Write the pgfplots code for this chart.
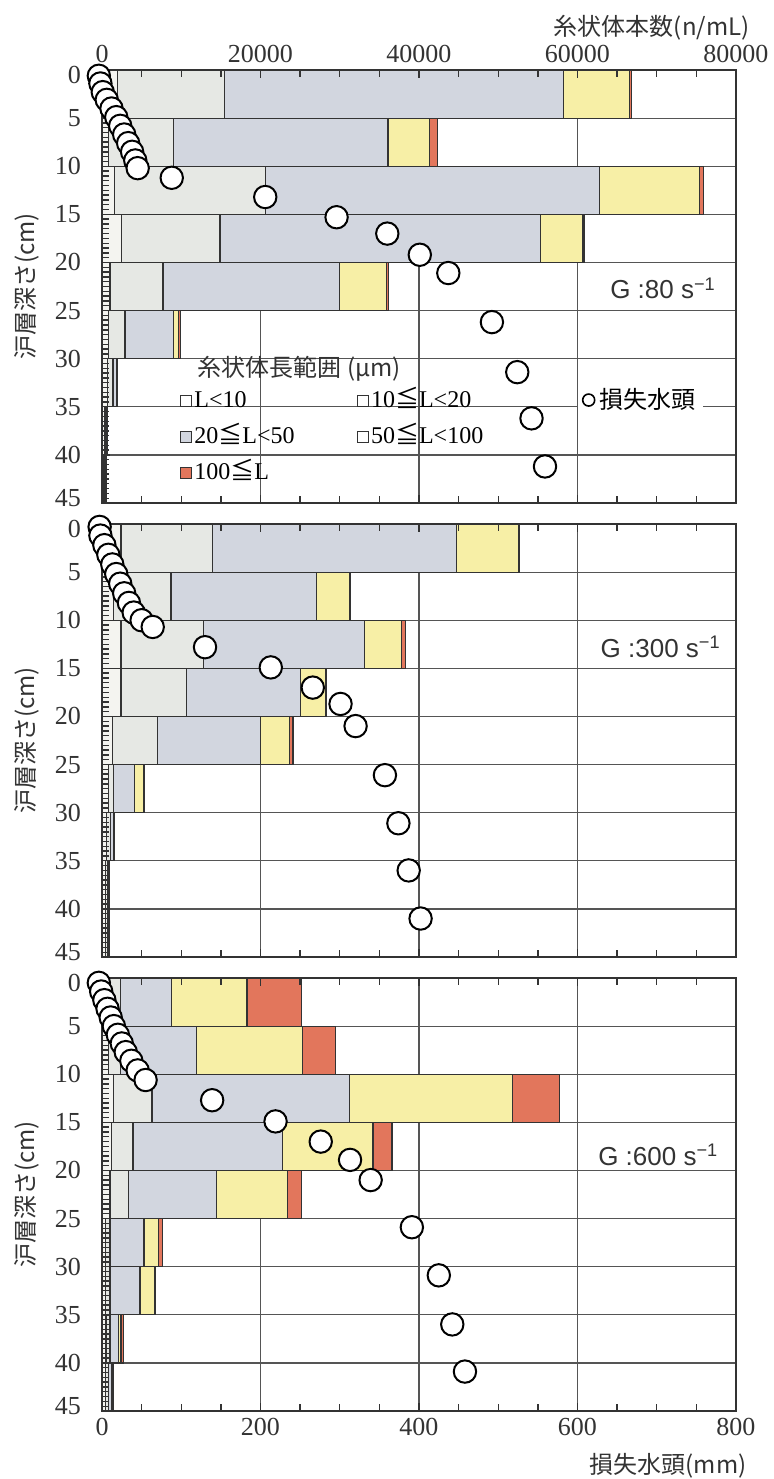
\documentclass[border=0pt]{standalone}
\usepackage{fontspec}
\setmainfont{Liberation Serif}
\newfontfamily\jp{Noto Sans CJK JP}
\newfontfamily\gs{Liberation Sans}
\usepackage{pgfplots}
\usepackage{pgfplotstable}
\pgfplotsset{compat=1.18}
\definecolor{cA}{HTML}{F4F4F0}
\definecolor{cB}{HTML}{E6E8E4}
\definecolor{cC}{HTML}{D2D6DF}
\definecolor{cD}{HTML}{F7EFA6}
\definecolor{cE}{HTML}{E2765C}
\definecolor{framec}{HTML}{333333}
\definecolor{gridc}{HTML}{555555}
\newcommand\leqj{{\jp ≦}}
\newcommand\up[1]{\raisebox{2.5pt}[\height][\depth]{#1}}
\newcommand\dn[1]{\raisebox{-2.5pt}[\height][\depth]{#1}}

% counts (n/mL) per length class; d = depth band centre (cm)
\pgfplotstableread{
d a b c e f
2.5 2000 13500 42700 8400 200
7.5 800 8200 27100 5200 1000
12.5 1600 19000 42200 12600 500
17.5 2500 12400 40400 5400 200
22.5 1000 6700 22300 5900 300
27.5 800 2100 6100 700 200
32.5 700 700 400 100 50
37.5 300 200 100 50 20
42.5 250 150 80 40 20
}\tA
\pgfplotstableread{
d a b c e f
2.5 2400 11500 30800 7900 100
7.5 1500 7200 18400 4100 100
12.5 2400 10400 20300 4700 500
17.5 2400 8300 14300 3200 100
22.5 1300 5700 13000 3700 400
27.5 800 700 2600 1200 100
32.5 600 500 400 80 20
37.5 400 250 150 70 30
42.5 400 250 150 70 30
}\tB
\pgfplotstableread{
d a b c e f
2.5 800 1500 6500 9500 6900
7.5 800 1500 9600 13400 4200
12.5 1500 4800 24900 20600 5900
17.5 1200 2700 18900 11400 2400
22.5 1000 2300 11100 9000 1800
27.5 400 600 4300 1800 500
32.5 400 600 3800 1900 100
37.5 500 500 1100 300 300
42.5 400 400 400 200 100
}\tC
% head loss (mm) vs depth (cm)
\pgfplotstableread{
x y
-4 0.6
-2 1.4
1 2.3
6 3.1
12 4.0
18 4.9
23 5.8
28 6.7
33 7.6
38 8.5
42 9.4
45 10.2
88 11.2
206 13.2
296 15.3
360 17.0
401 19.2
437 21.1
492 26.2
524 31.4
542 36.2
559 41.2
}\hA
\pgfplotstableread{
x y
-3 0.3
-2 1.2
3 2.2
8 3.2
13 4.2
18 5.2
23 6.2
28 7.2
34 8.2
40 9.2
50 10.0
64 10.7
130 12.8
213 14.9
266 17.0
301 18.7
320 21.0
357 26.1
374 31.1
387 36.0
402 41.0
}\hB
\pgfplotstableread{
x y
-4 0.5
-1 1.4
3 2.3
7 3.2
11 4.1
15 5.0
20 5.9
25 6.8
30 7.7
37 8.6
45 9.6
55 10.6
139 12.7
219 14.9
276 17.0
313 18.9
339 21.0
391 25.9
425 30.9
442 36.0
458 40.9
}\hC

\tikzset{glab/.style={font=\gs\fontsize{13}{15}\selectfont, text=black!80}}
\pgfplotsset{
 panel/.style={scale only axis, width=317pt, height=216.5pt, xmin=0, xmax=800,
   ymin=0, ymax=45, y dir=reverse, anchor=north west},
 bars/.style={panel, xbar stacked, bar width=5, axis line style={draw=none},
   xtick={200,400,600}, ytick={5,10,...,40}, xticklabels={}, yticklabels={},
   major tick length=0pt, grid=major, major grid style={draw=gridc, line width=0.6pt}},
 frame/.style={panel, clip=false, axis line style={draw=framec, line width=1.3pt},
   xtick={0,200,...,800}, minor x tick num=3, ytick={0,5,...,45}, minor y tick num=9,
   yticklabels={\dn{0},5,10,15,20,25,30,35,40,\up{45}},
   ytick pos=left, xtick pos=both, tick align=inside, major tick length=4pt,
   minor tick length=3.5pt, tick style={draw=framec, line width=0.7pt},
   every tick label/.append style={font=\fontsize{13}{15}\selectfont, text=black!80},
   yticklabel style={xshift=-7pt}, /pgf/number format/assume math mode=true,
   ylabel={\jp 沪層深さ(cm)},
   ylabel style={at={(axis description cs:-0.118,0.5)}, anchor=center,
     font=\fontsize{12}{14}\selectfont, text=black!80}},
 seg/.style={draw=black!80, line width=0.6pt, fill=#1},
 lsq/.style={legend image code/.code={\draw[draw=black!80,line width=0.6pt,fill=#1] (0pt,-2.8pt) rectangle (5.6pt,2.8pt);}},
 circ/.style={only marks, mark=*, mark size=5.6pt, mark options={draw=black, fill=white, line width=1pt}},
}

\begin{document}
\begin{tikzpicture}
\path[use as bounding box] (0pt,0pt) rectangle (387pt,-739.5pt);

% ---------- panel 1 ----------
\begin{axis}[bars, at={(51pt,-35pt)}, legend columns=2, legend cell align=left,
  legend style={at={(axis cs:98,38.15)}, anchor=west, draw=none, fill=none,
    inner sep=0pt, row sep=4.5pt, font=\fontsize{12}{14}\selectfont,
    nodes={inner sep=1pt, text height=9pt, text depth=2.5pt},
    /tikz/every even column/.append style={column sep=30pt}}]
\addplot[seg=cA, lsq=white] table[x expr=\thisrow{a}/100, y=d]{\tA};
\addlegendentry{L<10}
\addplot[seg=cB, lsq=white] table[x expr=\thisrow{b}/100, y=d]{\tA};
\addlegendentry{10\leqj L<20}
\addplot[seg=cC, lsq=cC] table[x expr=\thisrow{c}/100, y=d]{\tA};
\addlegendentry{20\leqj L<50}
\addplot[seg=cD, lsq=white] table[x expr=\thisrow{e}/100, y=d]{\tA};
\addlegendentry{50\leqj L<100}
\addplot[seg=cE, lsq=cE] table[x expr=\thisrow{f}/100, y=d]{\tA};
\addlegendentry{100\leqj L}
\end{axis}
\begin{axis}[frame, at={(51pt,-35pt)}, xticklabel pos=upper,
  xticklabels={0,20000,40000,60000,80000},
  xlabel={\jp 糸状体本数(n/mL)},
  xlabel style={at={(axis description cs:0.867,1.097)}, anchor=center,
    font=\fontsize{12}{14}\selectfont, text=black!80},
  legend style={at={(axis cs:600,34.3)}, anchor=west, draw=none, fill=white,
    inner sep=2pt, font=\fontsize{12}{14}\selectfont}]
\addplot[circ, legend image code/.code={\draw[black, line width=0.8pt, fill=white] (3pt,0pt) circle (3pt);}] table[x=x, y=y]{\hA};
\addlegendentry{\jp 損失水頭}
\node[glab] at (axis cs:708,22.7) {G :80 s\textsuperscript{−1}};
\node[anchor=west, font=\jp\fontsize{12}{14}\selectfont, text=black!80] at (axis cs:112,31) {糸状体長範囲 (μm)};
\end{axis}

% ---------- panel 2 ----------
\begin{axis}[bars, at={(51pt,-262pt)}]
\addplot[seg=cA] table[x expr=\thisrow{a}/100, y=d]{\tB};
\addplot[seg=cB] table[x expr=\thisrow{b}/100, y=d]{\tB};
\addplot[seg=cC] table[x expr=\thisrow{c}/100, y=d]{\tB};
\addplot[seg=cD] table[x expr=\thisrow{e}/100, y=d]{\tB};
\addplot[seg=cE] table[x expr=\thisrow{f}/100, y=d]{\tB};
\end{axis}
\begin{axis}[frame, at={(51pt,-262pt)}, xticklabels={}]
\addplot[circ] table[x=x, y=y]{\hB};
\node[glab] at (axis cs:705,12.8) {G :300 s\textsuperscript{−1}};
\end{axis}

% ---------- panel 3 ----------
\begin{axis}[bars, at={(51pt,-489pt)}]
\addplot[seg=cA] table[x expr=\thisrow{a}/100, y=d]{\tC};
\addplot[seg=cB] table[x expr=\thisrow{b}/100, y=d]{\tC};
\addplot[seg=cC] table[x expr=\thisrow{c}/100, y=d]{\tC};
\addplot[seg=cD] table[x expr=\thisrow{e}/100, y=d]{\tC};
\addplot[seg=cE] table[x expr=\thisrow{f}/100, y=d]{\tC};
\end{axis}
\begin{axis}[frame, at={(51pt,-489pt)}, xticklabel pos=lower,
  xlabel={\jp 損失水頭(mm)},
  xlabel style={at={(axis description cs:0.893,-0.127)}, anchor=center,
    font=\fontsize{12}{14}\selectfont, text=black!80}]
\addplot[circ] table[x=x, y=y]{\hC};
\node[glab] at (axis cs:702,18.4) {G :600 s\textsuperscript{−1}};
\end{axis}
\end{tikzpicture}
\end{document}
